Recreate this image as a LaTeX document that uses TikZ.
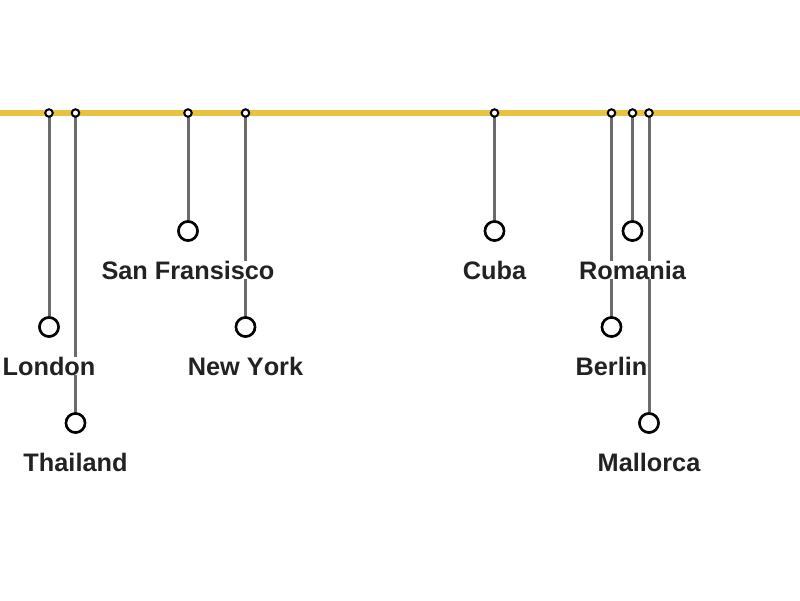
\documentclass[tikz,border=0pt]{standalone}
\usepackage{fontspec}
\setmainfont{Liberation Sans}[Kerning=Off]
\definecolor{trackyellow}{RGB}{232,194,64}
\definecolor{stemgrey}{RGB}{107,107,107}
\definecolor{labelgrey}{RGB}{34,34,34}
\tikzset{
  track/.style={draw=trackyellow, line width=6pt},
  stop/.style={circle, draw=black, line width=2pt, fill=white, minimum size=7.5pt, inner sep=0pt},
  city/.style={circle, draw=black, line width=2.5pt, fill=white, minimum size=19pt, inner sep=0pt},
  stem/.style={draw=stemgrey, line width=3pt},
  lbl/.style={anchor=base, fill=white, inner sep=0pt, text=labelgrey, font=\fontsize{25.3}{29}\selectfont\bfseries}
}
\begin{document}
\begin{tikzpicture}[x=1pt,y=-1pt]
\useasboundingbox (0,0) rectangle (800,600);
\coordinate (tl) at (0,113);
\coordinate (tr) at (800,113);
\node[city] (bLondon) at (49,327) {};
\node[city] (bThailand) at (75.5,423) {};
\node[city] (bSF) at (188,231) {};
\node[city] (bNY) at (245.5,327) {};
\node[city] (bCuba) at (494.5,231) {};
\node[city] (bBerlin) at (611.5,327) {};
\node[city] (bRomania) at (632.5,231) {};
\node[city] (bMallorca) at (649,423) {};
\coordinate (sLondon) at (49,113);
\coordinate (sThailand) at (75.5,113);
\coordinate (sSF) at (188,113);
\coordinate (sNY) at (245.5,113);
\coordinate (sCuba) at (494.5,113);
\coordinate (sBerlin) at (611.5,113);
\coordinate (sRomania) at (632.5,113);
\coordinate (sMallorca) at (649,113);
\foreach \c in {London,Thailand,SF,NY,Cuba,Berlin,Romania,Mallorca}{
  \draw[stem] (s\c) -- (b\c);
}
\draw[track] (tl) -- (tr);
\foreach \c in {London,Thailand,SF,NY,Cuba,Berlin,Romania,Mallorca}{
  \node[stop] (t\c) at (s\c) {};
  \node[city] at (b\c) {};
}
\node[lbl] (lSF) at (188,279) {San Fransisco};
\node[lbl] (lCuba) at (494.5,279) {Cuba};
\node[lbl] (lRomania) at (632.5,279) {Romania};
\node[lbl] (lLondon) at (49,375) {London};
\node[lbl] (lNY) at (245.5,375) {New York};
\node[lbl] (lBerlin) at (611.5,375) {Berlin};
\node[lbl] (lThailand) at (75.5,471) {Thailand};
\node[lbl] (lMallorca) at (649,471) {Mallorca};
\end{tikzpicture}
\end{document}
